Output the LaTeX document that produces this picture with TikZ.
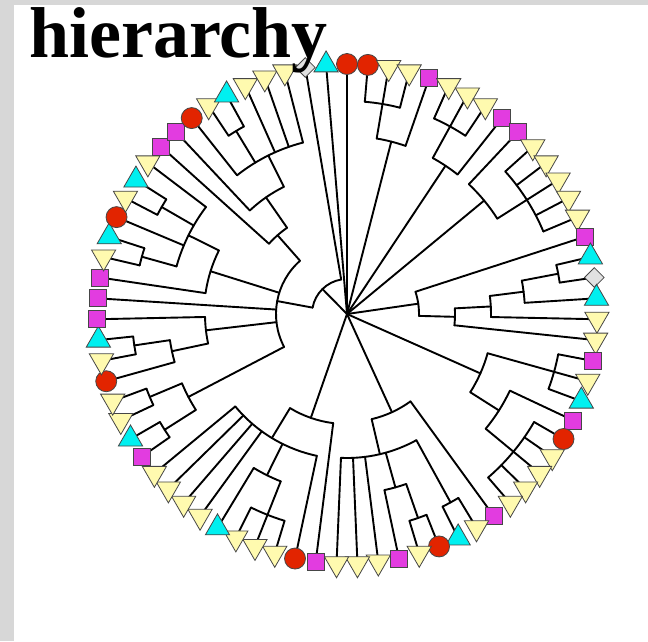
\documentclass[tikz,border=0pt]{standalone}
\usepackage{fontspec}
\newfontfamily\titlefont{Liberation Serif}
\usetikzlibrary{shapes.geometric}
\pgfdeclarelayer{back}
\pgfdeclarelayer{bg}
\pgfsetlayers{back,bg,main}
\definecolor{lyel}{RGB}{255,250,175}
\definecolor{lcyan}{RGB}{0,240,240}
\definecolor{lmag}{RGB}{226,60,224}
\definecolor{lred}{RGB}{226,36,0}
\definecolor{lgry}{RGB}{225,225,225}
\definecolor{lout}{RGB}{70,70,70}
\definecolor{framec}{RGB}{215,215,215}
\begin{document}
\begin{tikzpicture}[x=1pt,y=1pt,
  edge/.style={line width=1.9pt, line cap=round, line join=round},
  leaf/.style={draw=lout, line width=0.8pt, inner sep=0pt},
  lfy/.style={leaf, regular polygon, regular polygon sides=3, shape border rotate=180, minimum size=28pt, fill=lyel},
  lfc/.style={leaf, regular polygon, regular polygon sides=3, minimum size=28pt, fill=lcyan},
  lfm/.style={leaf, rectangle, minimum size=17pt, fill=lmag},
  lfr/.style={leaf, circle, minimum size=21pt, fill=lred},
  lfg/.style={leaf, diamond, minimum size=20pt, fill=lgry},
  titlestyle/.style={anchor=base west, inner sep=0pt, font=\titlefont\bfseries\fontsize{72}{72}\selectfont}
]
\useasboundingbox (0,0) rectangle (648,-641);
\begin{pgfonlayer}{back}
  \fill[framec] (0,0) rectangle (648,-641);
  \fill[white] (14,-5) rectangle (648,-641);
\end{pgfonlayer}

\begin{scope}[shift={(347,-314)}]
  \coordinate (root) at (0,0);
  % leaves
  \foreach \ix/\ty in {1/lfc,2/lfr,3/lfr,4/lfy,5/lfy,6/lfm,7/lfy,8/lfy,9/lfy,10/lfm,
    11/lfm,12/lfy,13/lfy,14/lfy,15/lfy,16/lfy,17/lfm,18/lfc,19/lfg,20/lfc,
    21/lfy,22/lfy,23/lfm,24/lfy,25/lfc,26/lfm,27/lfr,28/lfy,29/lfy,30/lfy,
    31/lfy,32/lfm,33/lfy,34/lfc,35/lfr,36/lfy,37/lfm,38/lfy,39/lfy,40/lfy,
    41/lfm,42/lfr,43/lfy,44/lfy,45/lfy,46/lfc,47/lfy,48/lfy,49/lfy,50/lfy,
    51/lfm,52/lfc,53/lfy,54/lfy,55/lfr,56/lfy,57/lfc,58/lfm,59/lfm,60/lfm,
    61/lfy,62/lfc,63/lfr,64/lfy,65/lfc,66/lfy,67/lfm,68/lfm,69/lfr,70/lfy,
    71/lfc,72/lfy,73/lfy,74/lfy,75/lfg}
    \node[\ty] (l\ix) at ({99.6-4.8*\ix}:250) {};

  % internal nodes
  \foreach \nm/\aa/\rr in {B/80.4/213, A/75.6/178, C/61.2/214, D/56.4/178,
    F/32.4/213, E/39.6/178, G/10.8/215, H/7.2/178, I/3/144, J/-1.5/108, K/8.25/72,
    AP/-15.6/215, AS/-39.6/216, AR/-32.4/180, L/-24/146,
    AM/-70.8/216, AL/-74.4/180, AN/-61.2/215, AK/-76.8/144, AO/-65.4/108,
    AI/-111.6/216, AH/-116.4/180, AG/-121.2/145, AJ/-109.2/110,
    AF/-147.6/216, AE/-157.2/214, AD/-152.4/179,
    SA/-171.6/215, SB/-168/179, R/-173.4/142,
    W/-195.6/213, Y/-210/214, V/-206.4/177, U/-197.4/143,
    AC/-238.8/214, AB/-243.6/177, AA/-235.2/142, Z/-228.6/105,
    Q/-190.5/71, P/-225.45/35}
    \coordinate (n\nm) at (\aa:\rr);

  \begin{pgfonlayer}{bg}
    % arcs of the internal nodes: radius / from / to
    \foreach \rr/\aa/\bb in {213/75.6/85.2, 178/70.8/80.4, 214/56.4/66, 178/51.6/61.2,
      213/22.8/42, 178/32.4/46.8, 215/8.4/13.2, 178/3.6/10.8, 144/-1.2/7.2,
      108/-6/3, 72/-1.5/18,
      215/-20.4/-10.8, 216/-49.2/-30, 180/-39.6/-25.2, 146/-32.4/-15.6,
      216/-73.2/-68.4, 180/-78/-70.8, 215/-63.6/-58.8, 144/-92.4/-61.2, 108/-76.8/-54,
      216/-116.4/-106.8, 180/-121.2/-111.6, 145/-140.4/-102, 110/-121.2/-97.2,
      216/-150/-145.2, 214/-159.6/-154.8, 179/-157.2/-147.6,
      215/-174/-169.2, 179/-171.6/-164.4, 142/-178.8/-168,
      213/-198/-193.2, 214/-212.4/-207.6, 177/-217.2/-195.6, 143/-206.4/-188.4,
      214/-241.2/-236.4, 177/-255.6/-231.6, 142/-243.6/-226.8, 105/-235.2/-222,
      71/-228.6/-152.4, 35/-260.4/-190.5}
      \draw[edge] (\aa:\rr) arc[start angle=\aa, end angle=\bb, radius=\rr];

    % internal node -> parent arc
    \foreach \nm/\aa/\rr in {B/80.4/178, C/61.2/178, F/32.4/178, G/10.8/178,
      H/7.2/144, I/3/108, J/-1.5/72, AP/-15.6/146, AS/-39.6/180, AR/-32.4/146,
      AM/-70.8/180, AL/-74.4/144, AN/-61.2/144, AK/-76.8/108,
      AI/-111.6/180, AH/-116.4/145, AG/-121.2/110,
      AF/-147.6/179, AE/-157.2/179, AD/-152.4/71,
      SA/-171.6/179, SB/-168/142, R/-173.4/71,
      W/-195.6/177, Y/-210/177, V/-206.4/143, U/-197.4/71,
      AC/-238.8/177, AB/-243.6/142, AA/-235.2/105, Z/-228.6/71, Q/-190.5/35}
      \draw[edge] (\aa:\rr) -- (n\nm);

    % root children
    \foreach \nm in {A,D,E,K,L,AO,AJ,P}
      \draw[edge] (root) -- (n\nm);

    % leaf -> parent arc (radius of the parent)
    \foreach \ix/\rr in {1/0,2/0,3/213,4/213,5/213,6/178,7/214,8/214,9/214,10/178,
      11/178,12/213,13/213,14/213,15/213,16/213,17/72,18/215,19/215,20/178,
      21/144,22/108,23/215,24/215,25/215,26/180,27/216,28/216,29/216,30/216,
      31/216,32/108,33/215,34/215,35/216,36/216,37/180,38/144,39/144,40/144,
      41/110,42/145,43/216,44/216,45/216,46/180,47/145,48/145,49/145,50/145,
      51/216,52/216,53/214,54/214,55/179,56/215,57/215,58/142,59/71,60/143,
      61/213,62/213,63/177,64/214,65/214,66/177,67/105,68/142,69/177,70/214,
      71/214,72/177,73/177,74/177,75/35}
      \draw[edge] ({99.6-4.8*\ix}:\rr) -- (l\ix.center);
  \end{pgfonlayer}
\end{scope}

\node[titlestyle] (title) at (29,-57) {hierarchy};
\end{tikzpicture}
\end{document}
